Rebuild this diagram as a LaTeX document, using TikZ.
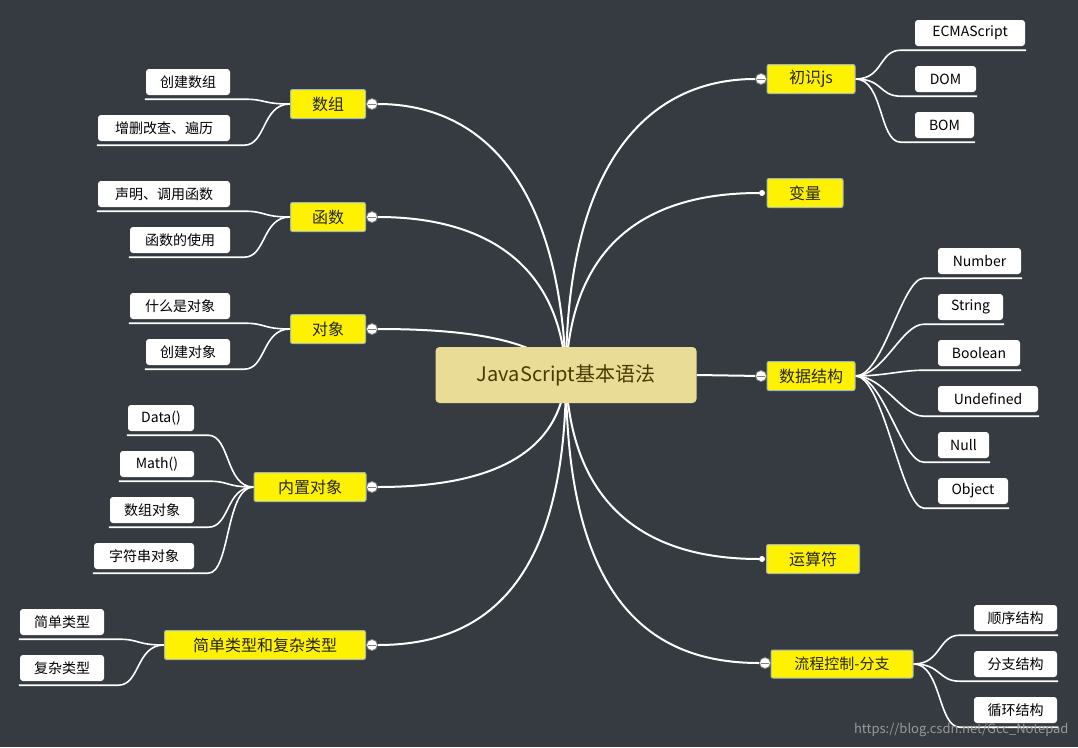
\documentclass[tikz,border=0pt]{standalone}
\usepackage{fontspec}
\setmainfont{Noto Sans CJK SC}
\usetikzlibrary{backgrounds}
\definecolor{bg}{HTML}{353B40}
\definecolor{ctr}{HTML}{E8DC96}
\definecolor{ctrtxt}{HTML}{4A3A00}
\definecolor{ybord}{HTML}{9FB8C0}
\tikzset{
 mainbox/.style={draw=ybord,line width=1pt,fill=yellow,rounded corners=2pt,inner sep=0pt,minimum height=29pt,font=\fontsize{16}{16}\selectfont,text=black!85},
 leafbox/.style={fill=white,rounded corners=3pt,inner sep=0pt,minimum height=26pt,font=\fontsize{14}{14}\selectfont,text=black},
 link/.style={white,line width=2pt},
 leaflink/.style={white,line width=1.6pt},
 knob/.style={circle,fill=white,draw=gray,line width=0.8pt,inner sep=0pt,minimum size=11pt},
 dotk/.style={circle,fill=white,inner sep=0pt,minimum size=6pt},
}
\begin{document}
\begin{tikzpicture}[x=1pt,y=-1pt]
\useasboundingbox (0,0) rectangle (1078,747);
% center
\node[fill=ctr,rounded corners=4pt,minimum width=261pt,minimum height=56pt,inner sep=0pt,font=\fontsize{20}{20}\selectfont,text=ctrtxt] (c) at (566,375) {JavaScript基本语法};
\coordinate (o) at (566,375);
% right main nodes
\node[mainbox,minimum width=88pt] (js) at (811,79) {初识js};
\node[mainbox,minimum width=76pt] (var) at (805,193) {变量};
\node[mainbox,minimum width=88pt] (ds) at (811,376) {数据结构};
\node[mainbox,minimum width=93pt] (op) at (813,559) {运算符};
\node[mainbox,minimum width=142pt,minimum height=28pt,font=\fontsize{15}{15}\selectfont] (fc) at (842,664) {流程控制-分支};
% left main nodes
\node[mainbox,minimum width=75pt] (arr) at (328,104) {数组};
\node[mainbox,minimum width=75pt] (fun) at (328,217) {函数};
\node[mainbox,minimum width=75pt] (obj) at (328,329) {对象};
\node[mainbox,minimum width=112pt] (bi) at (310,487) {内置对象};
\node[mainbox,minimum width=201pt] (ty) at (265,645) {简单类型和复杂类型};
% knobs
\node[knob] (kjs) at (761,79) {}; \draw[gray,line width=1pt] (757,79)--(765,79);
\node[dotk] (kvar) at (762,193) {};
\node[knob] (kds) at (761,376) {}; \draw[gray,line width=1pt] (757,376)--(765,376);
\node[dotk] (kop) at (762,559) {};
\node[knob] (kfc) at (765,663) {}; \draw[gray,line width=1pt] (761,663)--(769,663);
\node[knob] (karr) at (372,104) {}; \draw[gray,line width=1pt] (368,104)--(376,104);
\node[knob] (kfun) at (372,217) {}; \draw[gray,line width=1pt] (368,217)--(376,217);
\node[knob] (kobj) at (372,329) {}; \draw[gray,line width=1pt] (368,329)--(376,329);
\node[knob] (kbi) at (372,487) {}; \draw[gray,line width=1pt] (368,487)--(376,487);
\node[knob] (kty) at (372,645) {}; \draw[gray,line width=1pt] (368,645)--(376,645);
% leaves right
\node[leafbox,minimum width=110pt] (l1) at (970,33) {ECMAScript};
\node[leafbox,minimum width=61pt] (l2) at (945.5,79) {DOM};
\node[leafbox,minimum width=59pt] (l3) at (944.5,125) {BOM};
\node[leafbox,minimum width=83pt] (n1) at (979.5,261) {Number};
\node[leafbox,minimum width=65pt] (n2) at (970.5,307) {String};
\node[leafbox,minimum width=82pt] (n3) at (979,353) {Boolean};
\node[leafbox,minimum width=100pt] (n4) at (988,399) {Undefined};
\node[leafbox,minimum width=51pt] (n5) at (963.5,445) {Null};
\node[leafbox,minimum width=70pt] (n6) at (973,491) {Object};
\node[leafbox,minimum width=83pt] (f1) at (1015.5,618) {顺序结构};
\node[leafbox,minimum width=83pt] (f2) at (1015.5,664) {分支结构};
\node[leafbox,minimum width=83pt] (f3) at (1015.5,710) {循环结构};
% leaves left
\node[leafbox,minimum width=84pt] (a1) at (188,82) {创建数组};
\node[leafbox,minimum width=132pt] (a2) at (164,128) {增删改查、遍历};
\node[leafbox,minimum width=132pt] (b1) at (164,194) {声明、调用函数};
\node[leafbox,minimum width=100pt] (b2) at (180,240) {函数的使用};
\node[leafbox,minimum width=100pt] (c1) at (180,306) {什么是对象};
\node[leafbox,minimum width=84pt] (c2) at (188,352) {创建对象};
\node[leafbox,minimum width=66pt] (d1) at (161,418) {Data()};
\node[leafbox,minimum width=74pt] (d2) at (157,464) {Math()};
\node[leafbox,minimum width=84pt] (d3) at (152,510) {数组对象};
\node[leafbox,minimum width=100pt] (d4) at (144,556) {字符串对象};
\node[leafbox,minimum width=84pt] (e1) at (62,622) {简单类型};
\node[leafbox,minimum width=84pt] (e2) at (62,668) {复杂类型};
\node[text=gray!80,font=\fontsize{13}{13}\selectfont,anchor=east] (wm) at (1072,730) {https://blog.csdn.net/Gcc\_Notepad};
\begin{scope}[on background layer]
\fill[bg] (0,0) rectangle (1078,747);
% main links
\draw[link] (o) .. controls (566,160) and (650,79) .. (kjs);
\draw[link] (o) .. controls (570,250) and (640,193) .. (kvar);
\draw[link] (c.east) -- (kds);
\draw[link] (o) .. controls (570,500) and (640,559) .. (kop);
\draw[link] (o) .. controls (566,600) and (650,663) .. (kfc);
\draw[link] (o) .. controls (560,180) and (480,104) .. (karr);
\draw[link] (o) .. controls (560,260) and (480,217) .. (kfun);
\draw[link] (o) .. controls (540,340) and (470,329) .. (kobj);
\draw[link] (o) .. controls (560,460) and (480,487) .. (kbi);
\draw[link] (o) .. controls (566,600) and (470,645) .. (kty);
% right leaf links
\foreach \p/\l in {js/l1,js/l2,js/l3,ds/n1,ds/n2,ds/n3,ds/n4,ds/n5,ds/n6,fc/f1,fc/f2,fc/f3}{
 \draw[leaflink] (\p.east) .. controls +(28,0) and +(-22,0) .. ([xshift=-14pt,yshift=-4pt]\l.south west) -- ([xshift=1pt,yshift=-4pt]\l.south east);
}
% left leaf links
\foreach \p/\l in {arr/a1,arr/a2,fun/b1,fun/b2,obj/c1,obj/c2,bi/d1,bi/d2,bi/d3,bi/d4,ty/e1,ty/e2}{
 \draw[leaflink] (\p.west) .. controls +(-28,0) and +(22,0) .. ([xshift=14pt,yshift=-4pt]\l.south east) -- ([xshift=-1pt,yshift=-4pt]\l.south west);
}
\end{scope}
\end{tikzpicture}
\end{document}
